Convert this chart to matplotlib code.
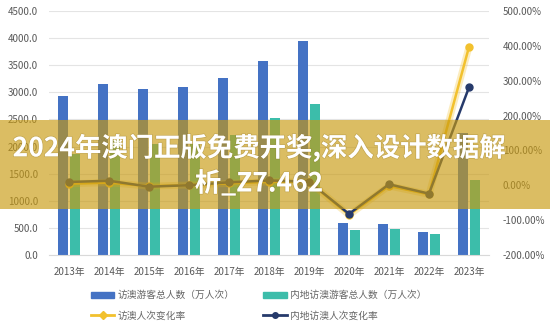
import matplotlib
matplotlib.use("Agg")
import matplotlib.pyplot as plt
import matplotlib.patheffects as pe
from matplotlib.patches import Rectangle
from matplotlib.lines import Line2D
from matplotlib.patches import Patch
import numpy as np

plt.rcParams['font.family'] = ['Noto Sans CJK SC', 'DejaVu Sans']

years = ['2013年', '2014年', '2015年', '2016年', '2017年', '2018年',
         '2019年', '2020年', '2021年', '2022年', '2023年']
total = [2932, 3148, 3067, 3093, 3259, 3578, 3940, 585, 572, 424, 2250]
mainland = [1863, 2125, 2041, 2045, 2220, 2526, 2793, 461, 486, 381, 1383]
total_rate = [4.4, 7.5, -2.6, 0.8, 5.4, 9.8, 10.1, -85.0, -2.0, -26.0, 397.0]
mainland_rate = [9.5, 13.0, -4.0, 0.2, 8.5, 13.8, 10.5, -82.0, 3.0, -24.0, 281.0]

left_ticks = [0, 500, 1000, 1500, 2000, 2500, 3000, 3500, 4000, 4500]
right_ticks = [-200, -100, 0, 100, 200, 300, 400, 500]

labels = ['访澳游客总人数（万人次）', '内地访澳游客总人数（万人次）',
          '访澳人次变化率', '内地访澳人次变化率']

c_blue = '#4472C4'
c_teal = '#3CBDAA'
c_yellow = '#F2C12E'
c_navy = '#263A6B'
c_text = '#595959'

fig = plt.figure(figsize=(5.5, 3.31), dpi=100)
ax = fig.add_axes([49/550, 1-255/331, 440/550, 244/331])
x = np.arange(len(years))
w = 0.25
ax.bar(x - 0.14, total, w, color=c_blue, zorder=2)
ax.bar(x + 0.14, mainland, w, color=c_teal, zorder=2)
ax.set_xlim(-0.5, len(years) - 0.5)
ax.set_ylim(0, 4500)
ax.set_yticks(left_ticks)
ax.set_yticklabels([f'{v:.1f}' for v in left_ticks])
ax.set_xticks(x)
ax.set_xticklabels(years)
ax.grid(axis='y', color='#E4E4E4', linewidth=0.8, zorder=0)
ax.set_axisbelow(True)
for s in ['top', 'right', 'left']:
    ax.spines[s].set_visible(False)
ax.spines['bottom'].set_color('#D9D9D9')
ax.tick_params(axis='both', length=0, labelsize=7, labelcolor=c_text)
ax.tick_params(axis='x', pad=9)
ax.tick_params(axis='y', pad=8)

ax2 = ax.twinx()
ax2.set_ylim(-200, 500)
ax2.set_yticks(right_ticks)
ax2.set_yticklabels([f'{v:.2f}%' for v in right_ticks])
for s in ax2.spines.values():
    s.set_visible(False)
ax2.tick_params(axis='y', length=0, labelsize=7, labelcolor=c_text, pad=10)
ax2.plot(x, total_rate, color=c_yellow, lw=5, alpha=0.3, zorder=3, solid_capstyle='round')
ax2.plot(x, total_rate, color=c_yellow, lw=1.8, marker='o', ms=5, zorder=4)
ax2.plot(x, mainland_rate, color=c_navy, lw=1.8, marker='o', ms=5, zorder=5)

handles = [Patch(color=c_blue), Patch(color=c_teal),
           Line2D([], [], color=c_yellow, lw=2, marker='D', ms=4),
           Line2D([], [], color=c_navy, lw=2, marker='o', ms=4)]
order = [0, 2, 1, 3]
fig.legend([handles[i] for i in order], [labels[i] for i in order],
           ncol=2, loc='center', bbox_to_anchor=(0.47, 1-305.5/331),
           frameon=False, fontsize=7, labelcolor='#666666',
           handlelength=2.4, handleheight=0.6, handletextpad=0.3,
           columnspacing=3.0, labelspacing=1.05)

fig.add_artist(Rectangle((0, 1-209/331), 1, 89/331, transform=fig.transFigure,
                         facecolor='#C89A10', alpha=0.65, edgecolor='none', zorder=10))
fx = [pe.withStroke(linewidth=1.0, foreground='#8a7020', alpha=0.3)]
fig.text(0.471, 1-148/331, '2024年澳门正版免费开奖,深入设计数据解', ha='center', va='center',
         color='white', fontsize=19, fontweight='bold', zorder=11, path_effects=fx)
fig.text(0.471, 1-184/331, '析_Z7.462', ha='center', va='center',
         color='white', fontsize=19, fontweight='bold', zorder=11, path_effects=fx)

fig.savefig('out.png', dpi=100)
